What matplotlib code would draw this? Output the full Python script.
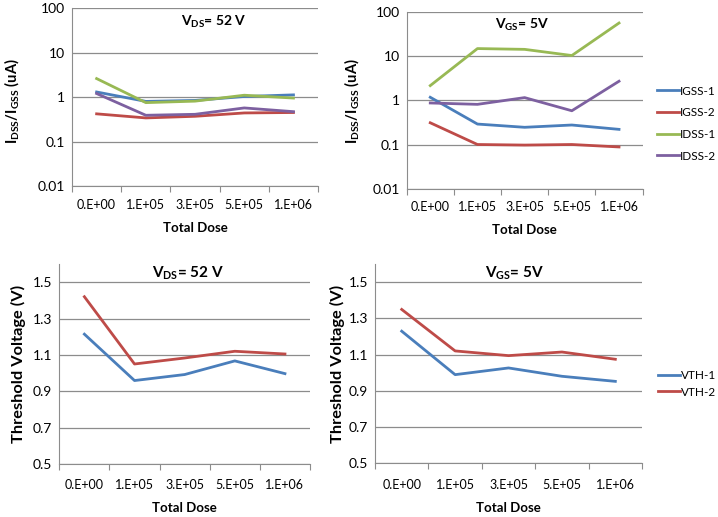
import matplotlib
matplotlib.use("Agg")
import matplotlib.pyplot as plt

plt.rcParams['font.family'] = ['Lato', 'DejaVu Sans']
plt.rcParams['mathtext.fontset'] = 'custom'
plt.rcParams['mathtext.rm'] = 'Lato'
plt.rcParams['mathtext.bf'] = 'Lato:bold'

doses = ["0.E+00", "1.E+05", "3.E+05", "5.E+05", "1.E+06"]

# leakage currents (uA), VDS = 52 V
vds_igss1 = [1.30, 0.80, 0.84, 1.03, 1.12]
vds_igss2 = [0.42, 0.34, 0.37, 0.44, 0.45]
vds_idss1 = [2.60, 0.75, 0.81, 1.10, 0.95]
vds_idss2 = [1.20, 0.39, 0.41, 0.57, 0.47]

# leakage currents (uA), VGS = 5V
vgs_igss1 = [1.17, 0.29, 0.245, 0.276, 0.22]
vgs_igss2 = [0.31, 0.10, 0.097, 0.10, 0.088]
vgs_idss1 = [2.15, 14.8, 14.2, 10.3, 56.0]
vgs_idss2 = [0.87, 0.81, 1.15, 0.58, 2.7]

# threshold voltage (V)
vds_vth1 = [1.214, 0.959, 0.992, 1.067, 0.997]
vds_vth2 = [1.42, 1.05, 1.083, 1.12, 1.105]
vgs_vth1 = [1.229, 0.989, 1.026, 0.98, 0.952]
vgs_vth2 = [1.349, 1.12, 1.094, 1.114, 1.074]

leak_names = ["IGSS-1", "IGSS-2", "IDSS-1", "IDSS-2"]
vth_names = ["VTH-1", "VTH-2"]
colors = ["#4A7EBB", "#BE4B48", "#98B954", "#7D60A0"]
grid_c = "#8C8C8C"

fig = plt.figure(figsize=(7.18, 5.17), dpi=100)

ax1 = fig.add_axes([0.1003, 0.640, 0.3427, 0.3445])
ax2 = fig.add_axes([0.5664, 0.635, 0.3286, 0.342])
ax3 = fig.add_axes([0.0826, 0.1025, 0.3492, 0.3869])
ax4 = fig.add_axes([0.5223, 0.104, 0.3719, 0.3854])

x = list(range(len(doses)))


def style(ax, pad):
    ax.set_xlim(-0.5, len(doses) - 0.5)
    ax.set_xticks([i - 0.5 for i in range(len(doses) + 1)], minor=False)
    ax.set_xticklabels([])
    ax.set_xticks(x, minor=True)
    ax.set_xticklabels(doses, minor=True, fontsize=9)
    ax.tick_params(axis='x', which='minor', length=0, pad=pad)
    ax.tick_params(axis='x', which='major', length=4, color=grid_c, direction='out')
    ax.tick_params(axis='y', length=0, labelsize=10, pad=5)
    ax.grid(True, axis='y', color=grid_c, lw=0.9)
    ax.set_axisbelow(True)
    for s in ['top', 'right']:
        ax.spines[s].set_visible(False)
    ax.spines['left'].set_color(grid_c)
    ax.spines['bottom'].set_color(grid_c)
    ax.set_xlabel("Total Dose", fontsize=9.5, fontweight='bold', labelpad=8)


for ax, data, title, tx, lx, ly in [
        (ax1, [vds_igss1, vds_igss2, vds_idss1, vds_idss2], r"V$_{\mathbf{DS}}$= 52 V", 0.577, -0.204, 0.478),
        (ax2, [vgs_igss1, vgs_igss2, vgs_idss1, vgs_idss2], r"V$_{\mathbf{GS}}$= 5V", 0.49, -0.189, 0.495)]:
    for vals, name, c in zip(data, leak_names, colors):
        ax.plot(x, vals, color=c, lw=2, label=name)
    ax.set_yscale('log')
    ax.set_ylim(0.01, 100)
    ax.set_yticks([0.01, 0.1, 1, 10, 100])
    ax.set_yticklabels(["0.01", "0.1", "1", "10", "100"])
    ax.minorticks_off()
    style(ax, 9)
    ax.set_ylabel(r"I$_{\mathbf{DSS}}$/I$_{\mathbf{GSS}}$ (uA)", fontsize=10.5, fontweight='bold')
    ax.yaxis.set_label_coords(lx, ly)
    ax.text(tx, 0.925, title, transform=ax.transAxes, ha='center', va='center',
            fontsize=10, fontweight='bold')

for ax, data, title, tx, lx in [
        (ax3, [vds_vth1, vds_vth2], r"V$_{\mathbf{DS}}$= 52 V", 0.513, -0.133),
        (ax4, [vgs_vth1, vgs_vth2], r"V$_{\mathbf{GS}}$= 5V", 0.524, -0.113)]:
    for vals, name, c in zip(data, vth_names, colors):
        ax.plot(x, vals, color=c, lw=2, label=name)
    ax.set_ylim(0.5, 1.6)
    ax.set_yticks([0.5, 0.7, 0.9, 1.1, 1.3, 1.5])
    ax.set_yticklabels(["0.5", "0.7", "0.9", "1.1", "1.3", "1.5"])
    style(ax, 11)
    ax.set_ylabel("Threshold Voltage (V)", fontsize=11.8, fontweight='bold')
    ax.yaxis.set_label_coords(lx, 0.5)
    ax.text(tx, 0.955, title, transform=ax.transAxes, ha='center', va='center',
            fontsize=11, fontweight='bold')

ax2.legend(loc='center left', bbox_to_anchor=(0.915, 0.761), bbox_transform=fig.transFigure,
           frameon=False, fontsize=8.5, handlelength=1.86, labelspacing=0.9,
           handletextpad=0.1, borderpad=0, borderaxespad=0)
ax4.legend(loc='center left', bbox_to_anchor=(0.9165, 0.258), bbox_transform=fig.transFigure,
           frameon=False, fontsize=8.5, handlelength=1.86, labelspacing=0.49,
           handletextpad=0.1, borderpad=0, borderaxespad=0)

fig.savefig("out.png", dpi=100)
